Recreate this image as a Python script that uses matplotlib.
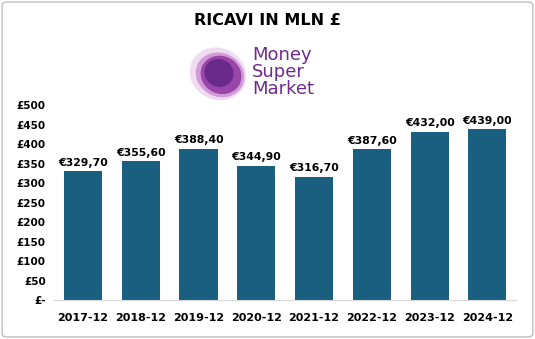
import matplotlib.pyplot as plt
from matplotlib.patches import Ellipse, FancyBboxPatch

# dati
years = ["2017-12", "2018-12", "2019-12", "2020-12", "2021-12", "2022-12", "2023-12", "2024-12"]
ricavi = [329.70, 355.60, 388.40, 344.90, 316.70, 387.60, 432.00, 439.00]
y_ticks = [0, 50, 100, 150, 200, 250, 300, 350, 400, 450, 500]

BAR_COLOR = "#1b5f80"
LOGO_COLOR = "#6e2a8e"

fig = plt.figure(figsize=(5.35, 3.39), dpi=100)

# bordo esterno
border = FancyBboxPatch((0.004, 0.006), 0.992, 0.988, boxstyle="round,pad=0,rounding_size=0.01",
                        transform=fig.transFigure, fill=False, edgecolor="#bfbfbf", linewidth=1)
fig.patches.append(border)

fig.text(0.5, 0.94, "RICAVI IN MLN £", ha="center", va="center", fontsize=11.5, fontweight="bold")

# logo
lax = fig.add_axes([0.34, 0.69, 0.33, 0.19])
lax.set_xlim(0, 176)
lax.set_ylim(0, 64)
lax.axis("off")
lax.add_patch(Ellipse((36, 31), 56, 50, angle=-25, color="#eedcf0"))
lax.add_patch(Ellipse((38, 30), 48, 42, angle=-25, color="#d39ad8"))
lax.add_patch(Ellipse((39, 30), 40, 36, angle=-25, color="#9a45a8"))
lax.add_patch(Ellipse((37, 32), 28, 26, angle=-25, color="#6a2a8c"))
lax.text(70, 50, "Money", color=LOGO_COLOR, fontsize=13, va="center", ha="left")
lax.text(70, 33, "Super", color=LOGO_COLOR, fontsize=13, va="center", ha="left")
lax.text(70, 16, "Market", color=LOGO_COLOR, fontsize=13, va="center", ha="left")

# grafico
ax = fig.add_axes([0.101, 0.115, 0.864, 0.575])
x = range(len(years))
bars = ax.bar(x, ricavi, width=0.66, color=BAR_COLOR)
for xi, v in zip(x, ricavi):
    ax.text(xi, v + 8, "€" + f"{v:.2f}".replace(".", ","), ha="center", va="bottom",
            fontsize=7.8, fontweight="bold")

ax.set_xlim(-0.5, len(years) - 0.5)
ax.set_ylim(0, 500)
ax.set_yticks(y_ticks)
ax.set_yticklabels(["£-"] + [f"£{t}" for t in y_ticks[1:]], fontsize=7.5, fontweight="bold")
ax.set_xticks(list(x))
ax.set_xticklabels(years, fontsize=8, fontweight="bold")
ax.tick_params(axis="both", length=0)
ax.tick_params(axis="x", pad=9)
ax.tick_params(axis="y", pad=6)
for s in ["top", "right", "left"]:
    ax.spines[s].set_visible(False)
ax.spines["bottom"].set_color("#d9d9d9")

fig.savefig("out.png", dpi=100)
